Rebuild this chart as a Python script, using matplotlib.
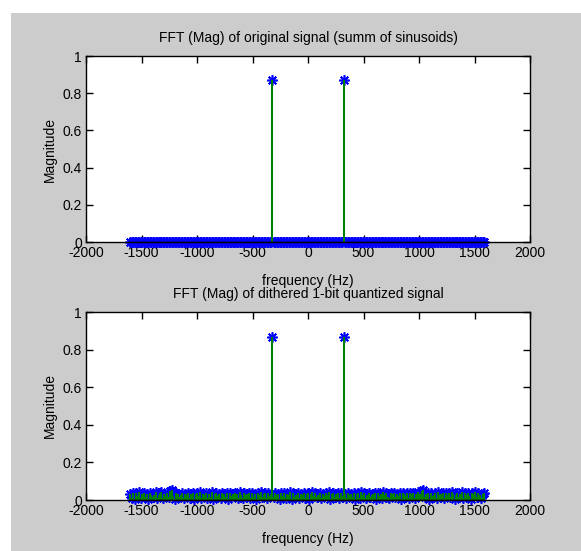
import numpy as np
import matplotlib
matplotlib.use("Agg")
import matplotlib.pyplot as plt
from matplotlib.patches import Rectangle
from matplotlib.ticker import FuncFormatter

plt.rcParams['font.family'] = ['Liberation Sans Narrow', 'Liberation Sans', 'DejaVu Sans']
plt.rcParams['axes.unicode_minus'] = False

# FFT bins: fs = 3200 Hz, N = 240 points, centred spectrum
fs = 3200
N = 240
freqs = (np.arange(N) - N // 2) * fs / N

peak_bins = [96, 144]          # -320 Hz and +320 Hz
peak_orig = [0.87, 0.87]
peak_dith = [0.865, 0.865]

# original signal: nothing but the two tones
mag_orig = [0.0] * N
for b, v in zip(peak_bins, peak_orig):
    mag_orig[b] = v

# dithered 1-bit signal: noise floor
noise_dith = [
    0.032, 0.012, 0.038, 0.006, 0.035, 0.021, 0.041, 0.009, 0.033, 0.037,
    0.015, 0.034, 0.004, 0.039, 0.025, 0.018, 0.028, 0.042, 0.011, 0.027,
    0.035, 0.040, 0.008, 0.033, 0.019, 0.038, 0.014, 0.046, 0.055, 0.022,
    0.005, 0.039, 0.030, 0.016, 0.028, 0.037, 0.010, 0.033, 0.024, 0.035,
    0.013, 0.034, 0.038, 0.007, 0.031, 0.036, 0.020, 0.040, 0.009, 0.033,
    0.026, 0.037, 0.012, 0.034, 0.017, 0.041, 0.006, 0.032, 0.036, 0.021,
    0.033, 0.011, 0.039, 0.030, 0.015, 0.035, 0.005, 0.038, 0.023, 0.034,
    0.019, 0.036, 0.032, 0.008, 0.040, 0.028, 0.013, 0.037, 0.024, 0.031,
    0.035, 0.010, 0.038, 0.018, 0.034, 0.004, 0.036, 0.029, 0.042, 0.014,
    0.032, 0.037, 0.009, 0.035, 0.022, 0.033, 0.865, 0.016, 0.039, 0.027,
    0.034, 0.007, 0.036, 0.020, 0.038, 0.012, 0.033, 0.029, 0.041, 0.005,
    0.035, 0.017, 0.028, 0.037, 0.010, 0.034, 0.025, 0.039, 0.013, 0.032,
    0.036, 0.006, 0.033, 0.040, 0.021, 0.035, 0.014, 0.026, 0.038, 0.009,
    0.034, 0.019, 0.037, 0.029, 0.042, 0.004, 0.033, 0.036, 0.015, 0.031,
    0.039, 0.011, 0.035, 0.023, 0.865, 0.032, 0.008, 0.037, 0.025, 0.034,
    0.018, 0.038, 0.006, 0.033, 0.036, 0.013, 0.040, 0.029, 0.035, 0.010,
    0.026, 0.037, 0.016, 0.028, 0.034, 0.039, 0.005, 0.036, 0.021, 0.033,
    0.012, 0.041, 0.029, 0.035, 0.017, 0.008, 0.038, 0.032, 0.036, 0.014,
    0.034, 0.022, 0.037, 0.006, 0.039, 0.033, 0.019, 0.035, 0.011, 0.038,
    0.031, 0.036, 0.009, 0.034, 0.040, 0.024, 0.033, 0.048, 0.054, 0.016,
    0.030, 0.035, 0.007, 0.039, 0.020, 0.028, 0.036, 0.013, 0.041, 0.027,
    0.034, 0.038, 0.010, 0.035, 0.025, 0.037, 0.015, 0.043, 0.030, 0.005,
    0.028, 0.039, 0.018, 0.033, 0.040, 0.011, 0.035, 0.029, 0.038, 0.022,
    0.007, 0.036, 0.032, 0.041, 0.014, 0.037, 0.028, 0.009, 0.033, 0.039,
]
mag_dith = list(noise_dith)
for b, v in zip(peak_bins, peak_dith):
    mag_dith[b] = v

titles = ["FFT (Mag) of original signal (summ of sinusoids)",
          "FFT (Mag) of dithered 1-bit quantized signal"]
xticks = [-2000, -1500, -1000, -500, 0, 500, 1000, 1500, 2000]
yticks = [0, 0.2, 0.4, 0.6, 0.8, 1]

W, H = 581, 551
fig = plt.figure(figsize=(W / 100, H / 100), dpi=100, facecolor='white')
# matlab grey figure panel
fig.patches.append(Rectangle((11 / W, 0), 1 - 11 / W, 1 - 13 / H,
                             transform=fig.transFigure, facecolor='#cccccc',
                             edgecolor='none', zorder=-10))

asterisk = (8, 2, 0)
boxes = [[86, 56, 530, 242], [86, 312, 530, 500]]
for i, (mags, title) in enumerate(zip([mag_orig, mag_dith], titles)):
    x0, y0, x1, y1 = boxes[i]
    ax = fig.add_axes([x0 / W, 1 - y1 / H, (x1 - x0) / W, (y1 - y0) / H])
    ax.set_facecolor('white')
    ml, sl, bl = ax.stem(freqs, mags, linefmt='-', markerfmt='o', basefmt='-')
    ml.set_marker(asterisk)
    ml.set_markeredgecolor('#0000ff')
    ml.set_markeredgewidth(1.2)
    ml.set_markersize(7.5)
    ml.set_clip_on(False)
    ml.set_zorder(2)
    # stems over the markers, so the green floor shows through
    sl.set_color('#008000')
    sl.set_linewidth(1.5)
    sl.set_zorder(2.5)
    bl.set_color('black')
    bl.set_linewidth(1)
    bl.set_zorder(3)
    ax.set_xlim(-2000, 2000)
    ax.set_ylim(0, 1)
    ax.set_xticks(xticks)
    ax.set_yticks(yticks)
    ax.yaxis.set_major_formatter(FuncFormatter(lambda v, p: '%g' % v))
    ax.tick_params(direction='in', top=True, right=True, length=5, width=1,
                   labelsize=10, pad=3)
    for s in ax.spines.values():
        s.set_linewidth(1)
    ax.set_title(title, fontsize=10, pad=10)
    ax.set_xlabel("frequency (Hz)", fontsize=10, labelpad=10)
    ax.set_ylabel("Magnitude", fontsize=10, labelpad=4)

fig.savefig("out.png", dpi=100, facecolor=fig.get_facecolor())
